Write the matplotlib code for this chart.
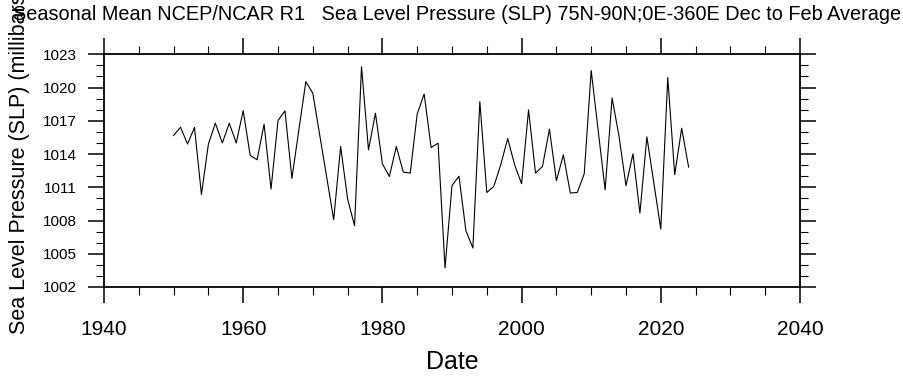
import numpy as np
import matplotlib
matplotlib.use("Agg")
import matplotlib.pyplot as plt
from matplotlib.ticker import MultipleLocator

plt.rcParams['font.family'] = ['Liberation Sans', 'DejaVu Sans']

# DJF mean SLP, 75N-90N
years = np.arange(1950, 2025)
slp = [
    1015.67, 1016.42, 1014.90, 1016.40, 1010.35, 1014.90, 1016.78, 1015.00, 1016.78, 1015.00,
    1017.92, 1013.88, 1013.48, 1016.69, 1010.84, 1017.02, 1017.90, 1011.80, 1016.20, 1020.53,
    1019.49, 1015.70, 1011.90, 1008.07, 1014.68, 1009.94, 1007.53, 1021.88, 1014.38, 1017.68,
    1013.12, 1011.97, 1014.68, 1012.37, 1012.28, 1017.62, 1019.42, 1014.59, 1014.98, 1003.72,
    1011.16, 1012.00, 1007.08, 1005.52, 1018.73, 1010.53, 1011.07, 1013.03, 1015.40, 1013.03,
    1011.32, 1017.98, 1012.28, 1012.88, 1016.24, 1011.59, 1013.93, 1010.48, 1010.53, 1012.22,
    1021.53, 1016.15, 1010.77, 1019.06, 1015.60, 1011.14, 1014.02, 1008.68, 1015.55, 1011.38,
    1007.23, 1020.90, 1012.13, 1016.33, 1012.82,
]

x_ticks = [1940, 1960, 1980, 2000, 2020, 2040]
y_ticks = [1002, 1005, 1008, 1011, 1014, 1017, 1020, 1023]

title = "Seasonal Mean NCEP/NCAR R1   Sea Level Pressure (SLP) 75N-90N;0E-360E Dec to Feb Average"
ylabel = "Sea Level Pressure (SLP) (millibars)"

fig = plt.figure(figsize=(9.04, 3.76), dpi=100)
ax = fig.add_axes([104 / 904, 1 - 287 / 376, 696 / 904, (287 - 54.3) / 376])

ax.plot(years, slp, color="black", lw=0.8)

ax.set_xlim(1940, 2040)
ax.set_ylim(1002, 1023)
ax.set_xticks(x_ticks)
ax.set_yticks(y_ticks)
ax.xaxis.set_minor_locator(MultipleLocator(5))
ax.yaxis.set_minor_locator(MultipleLocator(1))

for s in ax.spines.values():
    s.set_linewidth(1.3)

ax.tick_params(which="both", direction="out", top=True, right=True, color="black")
ax.tick_params(which="major", length=11.5, width=1.1)
ax.tick_params(which="minor", length=5.8, width=0.8)
ax.tick_params(axis="x", which="major", labelsize=15, pad=12)
ax.tick_params(axis="y", which="major", labelsize=11, pad=8)

ax.set_xlabel("Date", fontsize=18, labelpad=8.5)

# the y label runs off the top edge in the original as well
fig.text(19.5 / 904, 1 - 160 / 376, ylabel, rotation=90, ha="center", va="center", fontsize=15.5)
fig.text(457 / 904, 1 - 15 / 376, title, ha="center", va="center", fontsize=14.3)

fig.savefig("out.png", dpi=100)
